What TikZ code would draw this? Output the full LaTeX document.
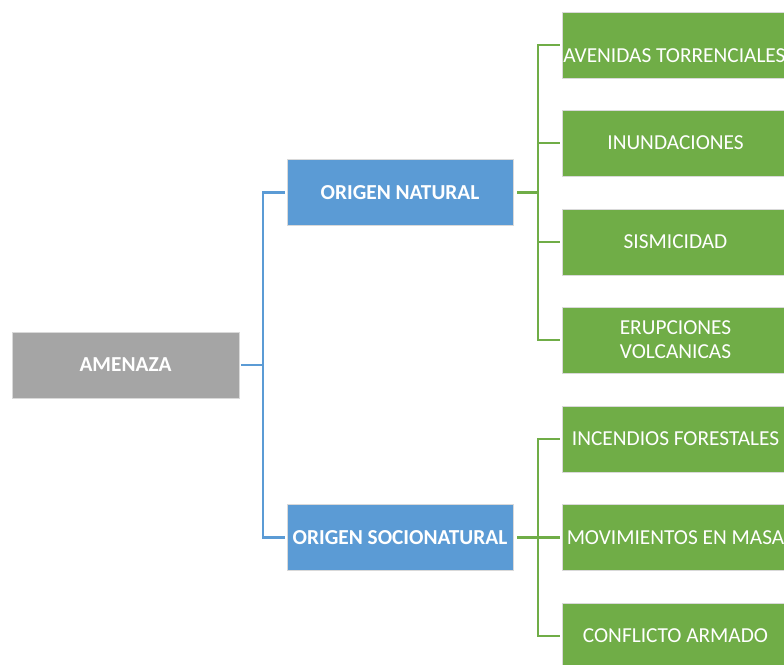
\documentclass[tikz,border=0pt]{standalone}
\usepackage{fontspec}
\setmainfont{Carlito}
\definecolor{cgray}{HTML}{A5A5A5}
\definecolor{cblue}{HTML}{5B9BD5}
\definecolor{cgreen}{HTML}{70AD47}
\begin{document}
\begin{tikzpicture}[x=0.75pt,y=-0.75pt,
  base/.style={draw=white!85!black, line width=0.5pt, text=white, minimum height=66*0.75pt, inner sep=0pt, align=center, font=\fontsize{16pt}{18pt}\selectfont},
  graybox/.style={base, fill=cgray, minimum width=227*0.75pt, font=\fontsize{16pt}{18pt}\selectfont\bfseries},
  bluebox/.style={base, fill=cblue, minimum width=226*0.75pt, font=\fontsize{16pt}{18pt}\selectfont\bfseries},
  greenbox/.style={base, fill=cgreen, minimum width=227*0.75pt},
  blueline/.style={draw=cblue, line width=1.6pt},
  greenline/.style={draw=cgreen, line width=1.6pt}]
\useasboundingbox (0,0) rectangle (784,664);
\clip (0,0) rectangle (784,664);
\fill[white] (0,0) rectangle (784,664);
% main nodes
\node[graybox] (am) at (125.5,365) {AMENAZA};
\node[bluebox] (nat) at (400,192.5) {ORIGEN NATURAL};
\node[bluebox] (soc) at (400,537.5) {ORIGEN SOCIONATURAL};
% green nodes
\node[greenbox] (g1) at (675.5,45) {};
\node[anchor=west, text=white, inner sep=0pt, font=\fontsize{16pt}{18pt}\selectfont] (g1t) at (563,56) {AVENIDAS TORRENCIALES};
\node[greenbox] (g2) at (675.5,143) {INUNDACIONES};
\node[greenbox] (g3) at (675.5,242) {SISMICIDAD};
\node[greenbox] (g4) at (675.5,340) {ERUPCIONES\\VOLCANICAS};
\node[greenbox] (g5) at (675.5,439) {INCENDIOS FORESTALES};
\node[greenbox] (g6) at (675.5,537.5) {MOVIMIENTOS EN MASA};
\node[greenbox] (g7) at (675.5,636) {CONFLICTO ARMADO};
% connector coordinates
\coordinate (bj) at (263,365);
\coordinate (gj1) at (538,192.5);
\coordinate (gj2) at (538,537.5);
% blue connectors
\draw[blueline] ([xshift=2*0.75pt]am.east) -- (bj);
\draw[blueline] ([xshift=-2*0.75pt]nat.west) -| (bj) |- ([xshift=-2*0.75pt]soc.west);
% green connectors
\draw[greenline] ([xshift=4*0.75pt]nat.east) -- (gj1);
\draw[greenline] ([xshift=-2*0.75pt]g1.west) -| (gj1) |- ([xshift=-2*0.75pt]g4.west);
\draw[greenline] (gj1 |- g2.west) -- ([xshift=-2*0.75pt]g2.west);
\draw[greenline] (gj1 |- g3.west) -- ([xshift=-2*0.75pt]g3.west);
\draw[greenline] ([xshift=4*0.75pt]soc.east) -- (gj2);
\draw[greenline] ([xshift=-2*0.75pt]g5.west) -| (gj2) |- ([xshift=-2*0.75pt]g7.west);
\draw[greenline] (gj2) -- ([xshift=-2*0.75pt]g6.west);
\end{tikzpicture}
\end{document}
